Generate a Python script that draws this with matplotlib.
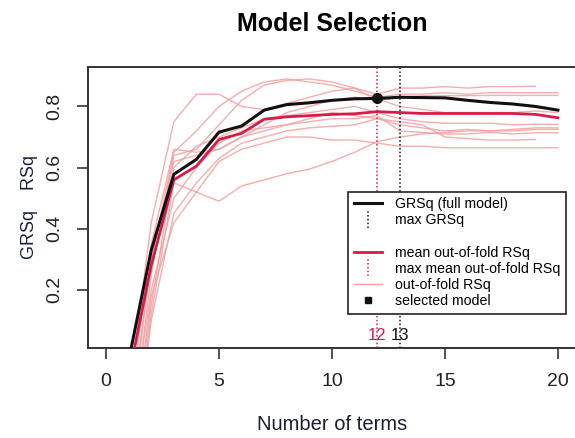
import matplotlib
matplotlib.use("Agg")
import matplotlib.pyplot as plt
from matplotlib.lines import Line2D
from matplotlib.legend_handler import HandlerBase
import numpy as np

plt.rcParams['font.family'] = ['Liberation Sans', 'DejaVu Sans']

# ---- data ----
nterms = list(range(1, 21))
grsq = [-0.03, 0.33, 0.578, 0.627, 0.716, 0.736, 0.788, 0.806, 0.812, 0.820,
        0.825, 0.826, 0.830, 0.829, 0.828, 0.820, 0.813, 0.808, 0.800, 0.788]
mean_oof_rsq = [-0.085, 0.28, 0.56, 0.605, 0.692, 0.712, 0.758, 0.766, 0.770, 0.774,
                0.776, 0.783, 0.780, 0.777, 0.777, 0.777, 0.777, 0.777, 0.774, 0.763]
nan = np.nan
oof_rsq = [
    [-0.15, 0.42, 0.75, 0.84, 0.84, 0.80, 0.79, 0.81, 0.83, 0.85, 0.86, 0.84, 0.86, 0.86, 0.865, 0.86, 0.865, 0.865, 0.866, nan],
    [-0.30, 0.30, 0.65, 0.72, 0.80, 0.85, 0.88, 0.89, 0.88, 0.87, 0.85, 0.83, 0.84, 0.84, 0.845, 0.84, 0.845, 0.845, 0.845, 0.845],
    [-0.35, 0.25, 0.64, 0.66, 0.74, 0.82, 0.87, 0.885, 0.89, 0.88, 0.86, 0.82, 0.83, 0.835, 0.835, 0.835, 0.836, 0.836, 0.836, 0.836],
    [-0.20, 0.35, 0.66, 0.65, 0.66, 0.70, 0.74, 0.78, 0.80, 0.82, 0.83, 0.825, 0.80, 0.79, 0.78, 0.78, 0.78, 0.78, 0.785, 0.78],
    [-0.40, 0.15, 0.60, 0.67, 0.70, 0.73, 0.76, 0.77, 0.78, 0.79, 0.80, 0.78, 0.76, 0.75, 0.745, 0.745, 0.745, 0.74, 0.742, 0.741],
    [-0.45, 0.12, 0.55, 0.52, 0.49, 0.54, 0.56, 0.58, 0.595, 0.62, 0.65, 0.685, 0.70, 0.71, 0.715, 0.72, 0.72, 0.725, 0.73, 0.73],
    [-0.50, 0.10, 0.45, 0.55, 0.63, 0.68, 0.70, 0.72, 0.73, 0.735, 0.74, 0.76, 0.74, 0.73, 0.72, 0.725, 0.72, 0.72, 0.725, 0.725],
    [-0.30, 0.20, 0.50, 0.60, 0.68, 0.72, 0.73, 0.74, 0.75, 0.76, 0.76, 0.77, 0.72, 0.715, 0.71, 0.71, 0.715, 0.71, 0.714, 0.714],
    [-0.40, 0.18, 0.42, 0.52, 0.62, 0.66, 0.68, 0.70, 0.70, 0.69, 0.69, 0.68, 0.67, 0.67, 0.665, 0.665, 0.665, 0.665, 0.665, 0.665],
    [-0.25, 0.30, 0.62, 0.64, 0.66, 0.70, 0.72, 0.74, 0.76, 0.78, 0.77, 0.76, 0.75, 0.74, 0.70, 0.695, 0.69, 0.69, 0.692, nan],
]
max_grsq_nterms = 13
max_oof_nterms = 12
selected_nterms = 12

black = '#111111'
crimson = '#d81b4a'
pink = '#f2a0a0'

W, H = 575, 438
fig = plt.figure(figsize=(W / 100, H / 100), dpi=100)
ax = fig.add_axes([88 / W, 1 - 348 / H, 488 / W, (348 - 67) / H])

for fold in oof_rsq:
    ax.plot(nterms, fold, color=pink, lw=1.0, alpha=0.85, zorder=1)
ax.axvline(max_oof_nterms, color=crimson, ls=(0, (1, 1.5)), lw=1.1, zorder=2)
ax.axvline(max_grsq_nterms, color=black, ls=(0, (1, 1.5)), lw=1.1, zorder=2)
ax.plot(nterms, mean_oof_rsq, color=crimson, lw=2.0, zorder=3)
ax.plot(nterms, grsq, color=black, lw=2.2, zorder=4)
ax.plot([selected_nterms], [grsq[selected_nterms - 1]], 'o', color=black, ms=7, zorder=5)

ax.text(max_oof_nterms, 0.025, str(max_oof_nterms), color=crimson, fontsize=12,
        ha='center', va='bottom')
ax.text(max_grsq_nterms, 0.025, str(max_grsq_nterms), color=black, fontsize=12,
        ha='center', va='bottom')

ax.set_xlim(-0.8, 20.8)
ax.set_ylim(0.01, 0.929)
ax.set_xticks([0, 5, 10, 15, 20])
ax.set_yticks([0.2, 0.4, 0.6, 0.8])
ax.set_yticklabels(['0.2', '0.4', '0.6', '0.8'], rotation=90, va='center')
ax.tick_params(direction='out', length=8, width=1.2, pad=10, labelsize=14,
               color='#333333', labelcolor='#222222')
for sp in ax.spines.values():
    sp.set_linewidth(1.4)
    sp.set_color('#333333')

ax.set_xlabel('Number of terms', fontsize=14.5, labelpad=18, color='#1a1f33')
ax.set_ylabel('GRSq    RSq', fontsize=13, labelpad=6, color='#1a1f40')

fig.text(332 / W, 1 - 31 / H, 'Model Selection', fontsize=18, fontweight='bold',
         ha='center', va='baseline')


class VDotHandler(HandlerBase):
    def create_artists(self, legend, orig_handle, xdescent, ydescent,
                       width, height, fontsize, trans):
        x = -xdescent + width / 2
        y0 = -ydescent - 0.35 * height
        y1 = height - ydescent + 0.35 * height
        ln = Line2D([x, x], [y0, y1], color=orig_handle.get_color(),
                    ls=(0, (1, 1.5)), lw=1.1, transform=trans)
        return [ln]


h_grsq = Line2D([], [], color=black, lw=2.2)
h_maxg = Line2D([], [], color=black)
h_blank = Line2D([], [], color='none')
h_mean = Line2D([], [], color=crimson, lw=2.0)
h_maxo = Line2D([], [], color=crimson)
h_oof = Line2D([], [], color=pink, lw=1.0)
h_sel = Line2D([], [], color=black, marker='s', ls='none', ms=5)

leg = ax.legend([h_grsq, h_maxg, h_blank, h_mean, h_maxo, h_oof, h_sel],
                ['GRSq (full model)', 'max GRSq', ' ', 'mean out-of-fold RSq',
                 'max mean out-of-fold RSq', 'out-of-fold RSq', 'selected model'],
                handler_map={h_maxg: VDotHandler(), h_maxo: VDotHandler()},
                loc='upper left', bbox_to_anchor=(348 / W, 1 - 191.7 / H),
                bbox_transform=fig.transFigure, borderaxespad=0,
                fontsize=10.2, frameon=True, fancybox=False, framealpha=1,
                edgecolor='#222222', handlelength=2.0, handletextpad=0.9,
                borderpad=0.4, labelspacing=0.15)
leg.get_frame().set_linewidth(1.2)
leg.set_zorder(6)

fig.savefig('out.png', dpi=100)
